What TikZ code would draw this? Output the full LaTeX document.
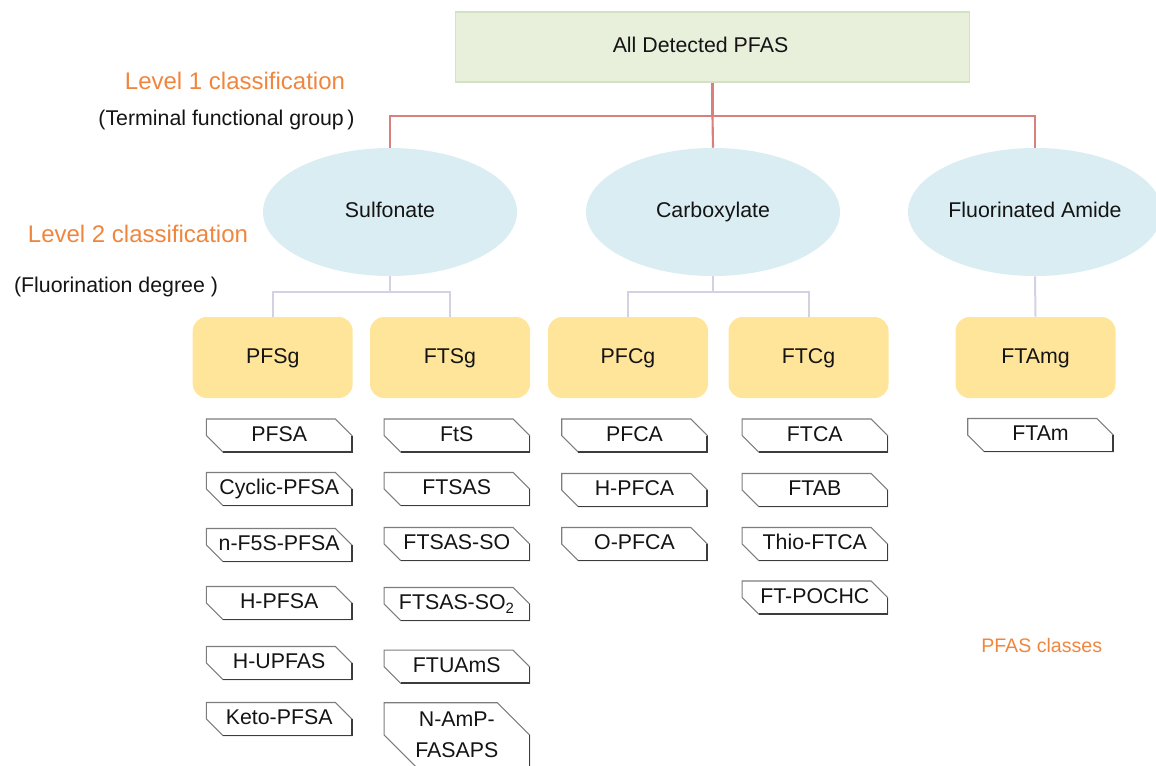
\documentclass[tikz,border=0pt]{standalone}
\usepackage{fontspec}
\setmainfont{Liberation Sans}
\usetikzlibrary{shapes.geometric,calc}

\definecolor{titlefill}{RGB}{232,240,220}
\definecolor{titleedge}{RGB}{212,225,194}
\definecolor{ellfill}{RGB}{218,237,243}
\definecolor{boxfill}{RGB}{255,229,153}
\definecolor{trunkred}{RGB}{217,128,124}
\definecolor{lilac}{RGB}{214,208,228}
\definecolor{accent}{RGB}{240,134,62}
\definecolor{tagedge}{RGB}{125,125,125}
\definecolor{tagshade}{RGB}{60,60,60}

\tikzset{
  base/.style={font=\fontsize{16}{19}\selectfont, text height=11.5pt, text depth=3.2pt,
               inner sep=0pt, text=black!92},
  topbox/.style={base, draw=titleedge, fill=titlefill, line width=0.8pt,
                 minimum width=386pt, minimum height=52.5pt},
  family/.style={base, ellipse, fill=ellfill, minimum width=190.5pt, minimum height=96pt},
  group/.style={base, fill=boxfill, rounded corners=10.5pt,
                minimum width=120pt, minimum height=60.75pt},
  tagbox/.style={base, minimum width=108.75pt, minimum height=24.4pt},
  tallbox/.style={font=\fontsize{16}{23.6}\selectfont, align=center,
                  text height={}, text depth={}, minimum height=48pt},
  tagline/.style={draw=tagedge, line width=0.8pt, line join=miter},
  tagdark/.style={draw=tagshade, line width=1.3pt, line join=miter},
  level/.style={base, font=\fontsize{18}{22}\selectfont, text height=13pt,
                text depth=3.6pt, text=accent},
  note/.style={base},
  trunk/.style={draw=trunkred, line width=1.6pt},
  branch/.style={draw=lilac, line width=1.5pt},
}

% a snipped-corner tag: name, centre, text
\newcommand\pfastag[4][]{%
  \node[tagbox,#1] (#2) at (#3) {#4};
  \draw[tagline] let \p1=(#2.north east), \p2=(#2.south west), \n1={(\y1-\y2)/2} in
    (\x2,\y1) -- (\x1-\n1,\y1) -- (\x1,\y1-\n1) -- (\x1,\y2) -- (\x2+\n1,\y2)
    -- (\x2,\y2+\n1) -- cycle;
  \draw[tagdark] let \p1=(#2.north east), \p2=(#2.south west), \n1={(\y1-\y2)/2} in
    (\x1,\y1-\n1) -- (\x1,\y2) -- (\x2+\n1,\y2);
}

\begin{document}
\begin{tikzpicture}[x=0.75pt,y=-0.75pt]
\useasboundingbox (0,0) rectangle (1156,765);
\clip (0,0) rectangle (1156,765);

% root (its text sits a little left of the box centre)
\node[topbox] (root) at (712.5,47) {\hspace*{-18pt}All Detected PFAS};

% level 1: terminal functional group
\node[family] (sulf) at (390,212) {Sulfonate};
\node[family] (carb) at (713,212) {Carboxylate};
\node[family] (amide) at (1035,212) {Fluorinated Amide};

% level 2: fluorination degree
\node[group] (pfsg) at (272.7,357.5) {PFSg};
\node[group] (ftsg) at (450,357.5) {FTSg};
\node[group] (pfcg) at (628,357.5) {PFCg};
\node[group] (ftcg) at (808.5,357.5) {FTCg};
\node[group] (ftamg) at (1035.5,357.5) {FTAmg};

% side labels
\node[level] (lv1) at (235,83) {Level 1 classification};
\node[note] (lv1n) at (226.5,120.3) {(Terminal functional group\,)};
\node[level] (lv2) at (138,236.4) {Level 2 classification};
\node[note] (lv2n) at (116,287) {(Fluorination degree )};
\node[base, font=\fontsize{14.7}{17}\selectfont, text height=10.6pt, text depth=2.9pt,
      text=accent] (classes) at (1041.7,647.2) {PFAS classes};

% connectors from the root
\coordinate (j1) at (712.5,116);
\draw[trunk] (root.south) -- (j1) -| (sulf.north);
\draw[trunk] (j1) -| (amide.north);
\draw[trunk] (j1) -- (carb.north);

% connectors to the groups
\coordinate (js) at (390,292);
\coordinate (jc) at (713,292);
\draw[branch] (sulf.south) -- (js) -| (pfsg.north);
\draw[branch] (js) -| (ftsg.north);
\draw[branch] (carb.south) -- (jc) -| (pfcg.north);
\draw[branch] (jc) -| (ftcg.north);
\draw[branch] (amide.south) -- (ftamg.north);

% PFSg classes
\pfastag{pfsa}{279.2,435.5}{PFSA}
\pfastag{cpfsa}{279.2,489}{Cyclic-PFSA}
\pfastag{nf5s}{279.2,545}{n-F5S-PFSA}
\pfastag{hpfsa}{279.2,603}{H-PFSA}
\pfastag{hupfas}{279.2,663}{H-UPFAS}
\pfastag{keto}{279.2,719}{Keto-PFSA}

% FTSg classes
\pfastag{fts}{456.8,435.5}{FtS}
\pfastag{ftsas}{456.8,489}{FTSAS}
\pfastag{ftsasso}{456.8,544}{FTSAS-SO}
\pfastag{ftsasso2}{456.8,604}{FTSAS-SO\textsubscript{2}}
\pfastag{ftuams}{456.8,666.7}{FTUAmS}
\pfastag[tallbox]{napfasaps}{456.8,735}{N-AmP-\\FASAPS}

% PFCg classes
\pfastag{pfca}{634.5,435.5}{PFCA}
\pfastag{hpfca}{634.5,490}{H-PFCA}
\pfastag{opfca}{634.5,544}{O-PFCA}

% FTCg classes
\pfastag{ftca}{814.8,435.5}{FTCA}
\pfastag{ftab}{814.8,490}{FTAB}
\pfastag{thio}{814.8,544}{Thio-FTCA}
\pfastag{ftpochc}{814.8,597.5}{FT-POCHC}

% FTAmg classes
\pfastag{ftam}{1040.5,435}{FTAm}

\end{tikzpicture}
\end{document}
